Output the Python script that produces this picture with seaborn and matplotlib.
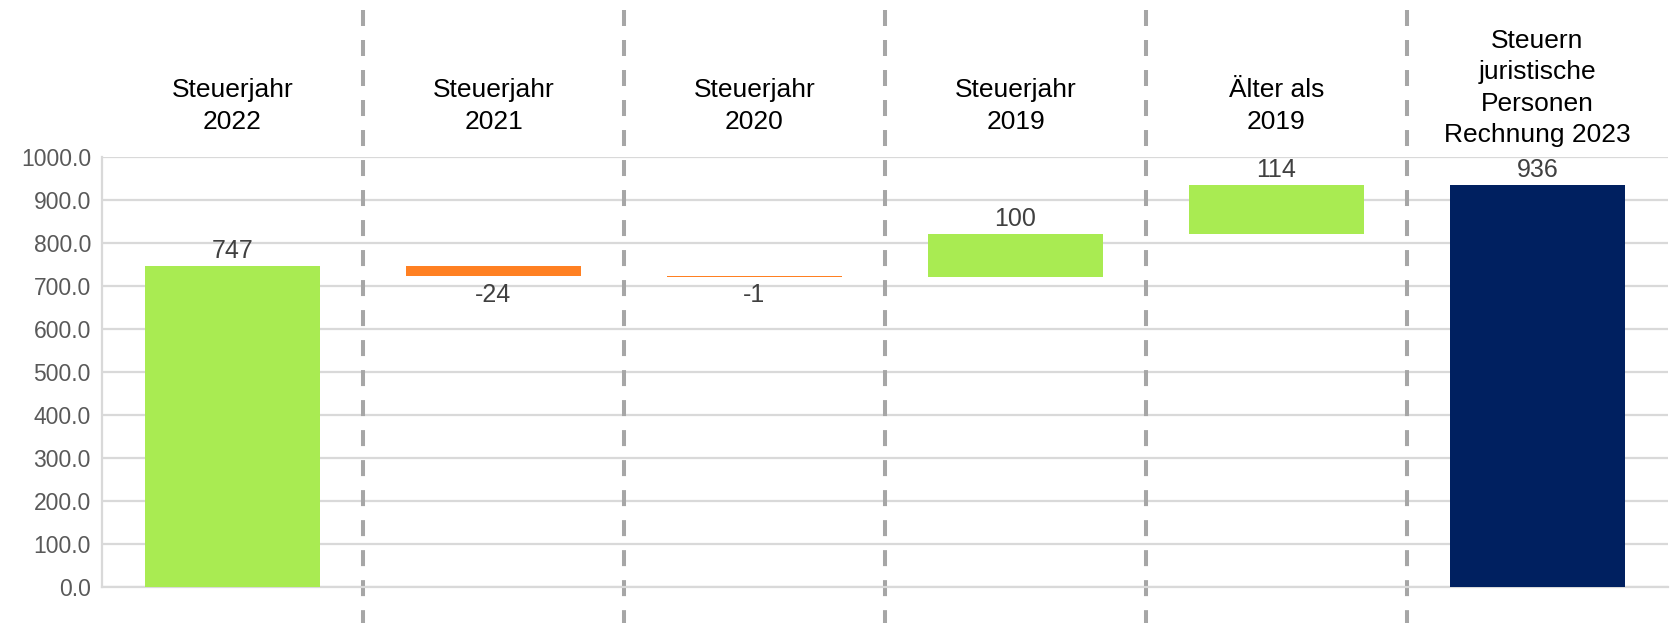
import numpy as np
import pandas as pd
import matplotlib
matplotlib.use("Agg")
import matplotlib.pyplot as plt
import matplotlib.transforms as mtransforms
import seaborn as sns

categories = ["Steuerjahr\n2022", "Steuerjahr\n2021", "Steuerjahr\n2020",
              "Steuerjahr\n2019", "Älter als\n2019",
              "Steuern\njuristische\nPersonen\nRechnung 2023"]
values = [747, -24, -1, 100, 114, 936]
is_total = [False, False, False, False, False, True]
value_labels = ["747", "-24", "-1", "100", "114", "936"]
y_ticks = [0, 100, 200, 300, 400, 500, 600, 700, 800, 900, 1000]

GREEN = "#a9eb52"
ORANGE = "#ff8022"
NAVY = "#002060"

sns.set_theme(style="white")
plt.rcParams["font.family"] = ["Liberation Sans", "DejaVu Sans"]

# waterfall geometry from the values
bottoms, heights, tops, colors = [], [], [], []
running = 0
for v, tot in zip(values, is_total):
    if tot:
        b, h = 0, v
        running = v
        c = NAVY
    else:
        start = running
        running = running + v
        b = min(start, running)
        h = abs(v)
        c = GREEN if v >= 0 else ORANGE
    bottoms.append(b)
    heights.append(h)
    tops.append(b + h)
    colors.append(c)

df = pd.DataFrame({"cat": categories, "height": heights, "bottom": bottoms})

fig = plt.figure(figsize=(16.75, 6.23), dpi=100)
ax = fig.add_axes([102 / 1675, 1 - 587 / 623, (1668 - 102) / 1675, 430 / 623])

sns.barplot(data=df, x="cat", y="height", bottom=df["bottom"].values,
            color=GREEN, width=0.667, ax=ax, zorder=3, linewidth=0)
for p, c in zip(ax.patches, colors):
    p.set_facecolor(c)
    p.set_edgecolor("none")

ax.set_ylim(0, 1000)
ax.set_xlim(-0.5, len(categories) - 0.5)
ax.set_yticks(y_ticks)
ax.set_yticklabels([f"{t:.1f}" for t in y_ticks], fontsize=16.5, color="#595959")
ax.set_xticks([])
ax.set_xlabel("")
ax.set_ylabel("")
ax.yaxis.grid(True, color="#d9d9d9", linewidth=1.6, zorder=0)
ax.set_axisbelow(True)
for s in ["top", "right"]:
    ax.spines[s].set_visible(False)
ax.spines["left"].set_color("#d9d9d9")
ax.spines["left"].set_linewidth(1.6)
ax.spines["bottom"].set_color("#d9d9d9")
ax.spines["bottom"].set_linewidth(1.6)
ax.tick_params(axis="y", length=0, pad=8)

# value labels
for i, (v, lab) in enumerate(zip(values, value_labels)):
    if v >= 0:
        ax.annotate(lab, (i, tops[i]), xytext=(0, 2), textcoords="offset points",
                    ha="center", va="bottom", fontsize=18, color="#404040", zorder=5)
    else:
        ax.annotate(lab, (i, bottoms[i]), xytext=(0, -5), textcoords="offset points",
                    ha="center", va="top", fontsize=18, color="#404040", zorder=5)

# separators spanning the whole figure (drawn top -> bottom so dash phase starts at top)
trans = mtransforms.blended_transform_factory(ax.transData, ax.transAxes)
for i in range(len(categories) - 1):
    ax.plot([i + 0.5, i + 0.5], [1.342, -0.09], transform=trans,
            color="#a6a6a6", linewidth=2.9, linestyle=(0, (3.97, 3.48)),
            solid_capstyle="butt", dash_capstyle="butt",
            clip_on=False, zorder=1)

# category labels above plot
for i, cat in enumerate(categories):
    n = cat.count("\n") + 1
    yc = 1 - 106 / 623 if n <= 2 else 1 - 88 / 623
    xd = ax.transData.transform((i, 0))[0]
    xf = fig.transFigure.inverted().transform((xd, 0))[0]
    fig.text(xf, yc, cat, ha="center", va="center", fontsize=19,
             color="black", linespacing=1.4)

fig.savefig("out.png", dpi=100)
